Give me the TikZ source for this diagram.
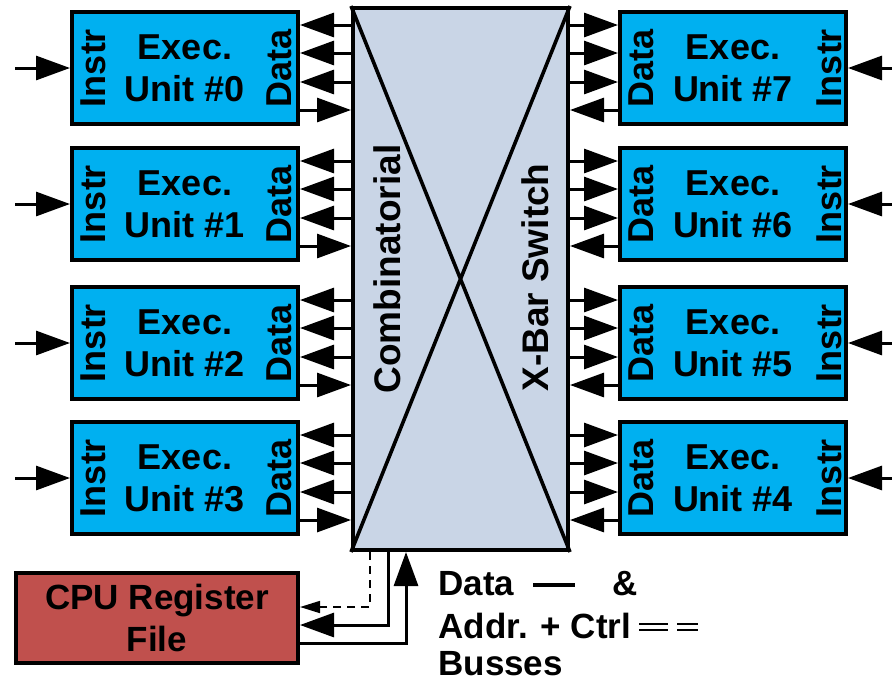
\documentclass[tikz,border=0pt]{standalone}
\usepackage{fontspec}
\setmainfont{Liberation Sans}
\usetikzlibrary{arrows.meta,calc}

\definecolor{unitblue}{HTML}{00B0F0}
\definecolor{xbarblue}{HTML}{C9D5E6}
\definecolor{regred}{HTML}{C0504D}

\tikzset{
  unit/.style={draw, line width=2pt, fill=unitblue, minimum width=113pt, minimum height=56pt,
    inner sep=0pt, align=center, font=\fontsize{18}{21}\selectfont\bfseries},
  sidelbl/.style={rotate=90, inner sep=0pt, font=\fontsize{18}{21}\selectfont\bfseries},
  xbarlbl/.style={rotate=90, inner sep=0pt, font=\fontsize{18.5}{22}\selectfont\bfseries},
  legend/.style={anchor=west, inner sep=0pt, font=\fontsize{17.5}{21}\selectfont\bfseries},
  bus/.style={line width=1.5pt, -{Triangle[length=17pt,width=12pt]}},
  ctrl/.style={line width=0.8pt, dash pattern=on 4pt off 3pt, -{Triangle[length=10pt,width=6pt]}},
}

\begin{document}
\begin{tikzpicture}[x=0.5pt, y=-0.5pt]
    \useasboundingbox (0,0) rectangle (892,681);

    % crossbar in the middle
    \node[draw, line width=2pt, fill=xbarblue, minimum width=107.5pt, minimum height=271pt] (sw) at (460.5,279) {};
    \draw[line width=1.8pt] (sw.north west) -- (sw.south east) (sw.north east) -- (sw.south west);
    \node[xbarlbl] (comb) at ($(sw.center)+(-73.5,-10)$) {Combinatorial};
    \node[xbarlbl] (xbar) at ($(sw.center)+(74.5,-1.5)$) {X-Bar Switch};

    % execution units, left column 0..3, right column 7..4
    \foreach \i/\j/\y in {0/7/68, 1/6/204, 2/5/343, 3/4/478} {
        \node[unit] (u\i) at (185,\y) {Exec.\\Unit \#\i};
        \node[unit] (u\j) at (733,\y) {Exec.\\Unit \#\j};
        \node[sidelbl] (ins\i) at ($(u\i.west)+(23,0)$) {Instr};
        \node[sidelbl] (dat\i) at ($(u\i.east)+(-21,0)$) {Data};
        \node[sidelbl] (dat\j) at ($(u\j.west)+(23,0)$) {Data};
        \node[sidelbl] (ins\j) at ($(u\j.east)+(-19,0)$) {Instr};

        \coordinate (in\i) at (15,\y);
        \coordinate (in\j) at (892,\y);
        \draw[bus] (in\i) -- (u\i.west);
        \draw[bus] (in\j) -- (u\j.east);

        \foreach \d in {-43,-15,14} {
            \coordinate (pl) at ($(u\i.east)+(0,\d)$);
            \draw[bus] (sw.west |- pl) -- (pl);
            \coordinate (pr) at ($(u\j.west)+(0,\d)$);
            \draw[bus] (sw.east |- pr) -- (pr);
        }
        \coordinate (pl) at ($(u\i.east)+(0,42)$);
        \draw[bus] (pl) -- (sw.west |- pl);
        \coordinate (pr) at ($(u\j.west)+(0,42)$);
        \draw[bus] (pr) -- (sw.east |- pr);
    }

    % register file and its busses
    \node[draw, line width=2pt, fill=regred, minimum width=141pt, minimum height=45pt, inner sep=0pt,
          align=center, font=\fontsize{17.5}{21}\selectfont\bfseries] (rf) at (157,618) {CPU Register\\File};
    \draw[ctrl] ($(sw.south west)+(19,0)$) |- ($(rf.east)+(0,-11)$);
    \draw[bus] ($(sw.south west)+(37,0)$) |- ($(rf.east)+(0,7)$);
    \draw[bus] ($(rf.east)+(0,25)$) -| ($(sw.south west)+(55,0)$);

    % legend
    \node[legend] (ldata) at (438,584) {Data};
    \node[legend] (lamp) at (612,584) {\&};
    \node[legend] (laddr) at (438,626) {Addr. + Ctrl};
    \node[legend] (lbus) at (438,664) {Busses};
    \draw[line width=2pt] (533,585) -- (575,585);
    \draw[line width=0.7pt, double, double distance=2.2pt] (639,627) -- (668,627) (677,627) -- (698,627);
\end{tikzpicture}
\end{document}
